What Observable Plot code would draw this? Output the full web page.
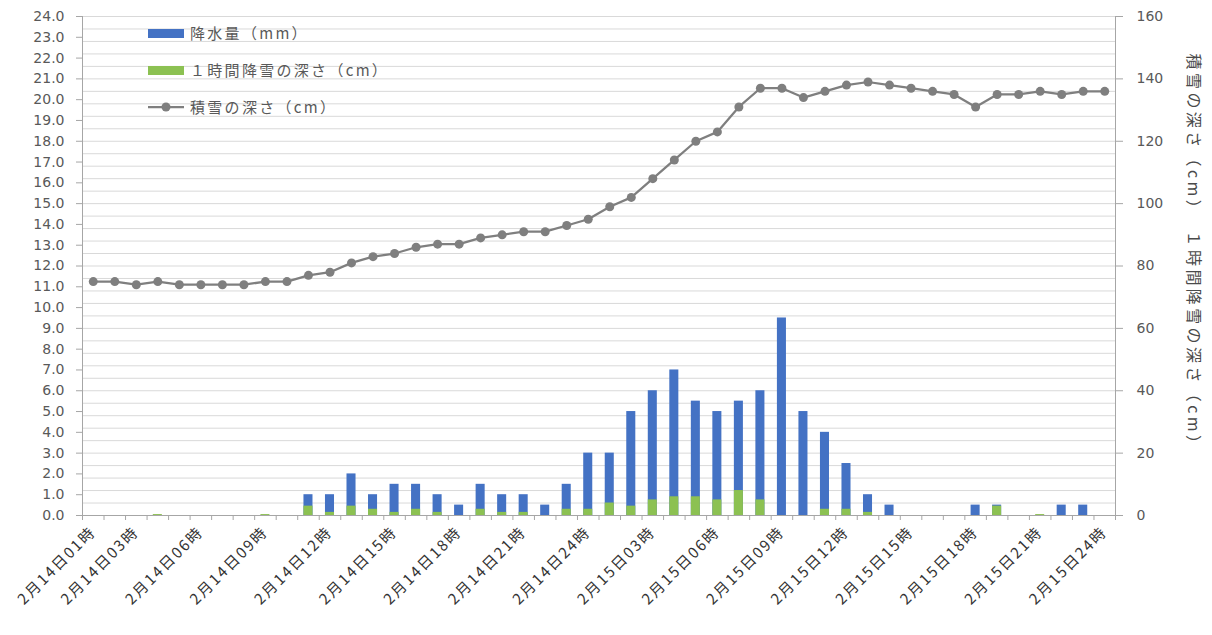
<!DOCTYPE html>
<html>
<head>
<meta charset="utf-8">
<script src="https://cdn.jsdelivr.net/npm/d3@7"></script>
<script src="https://cdn.jsdelivr.net/npm/@observablehq/plot@0.6"></script>
<style>
  html, body { margin: 0; padding: 0; background: #fff; }
  #wrap { position: relative; width: 1212px; height: 635px; overflow: hidden; }
  #chart { position: absolute; left: 0; top: 0; }
  .legend { position: absolute; font-family: "Noto Sans CJK JP", sans-serif; font-size: 15px; color: #595959; letter-spacing: 2.3px; }
  .legend .item { position: absolute; white-space: nowrap; height: 20px; }
  .legend .sw { position: absolute; left: 0; width: 36px; height: 9px; top: 6px; }
  .legend .txt { position: absolute; left: 42px; top: 0; line-height: 20px; }
  #ytitle { position: absolute; left: 1195px; top: 254px; transform: translate(-50%, -50%) rotate(90deg);
            font-family: "Noto Sans CJK JP", sans-serif; font-size: 16px; color: #4a4a4a; white-space: nowrap; letter-spacing: 3.4px; }
  svg [aria-label="x-axis tick label"] { letter-spacing: 2px; }
</style>
</head>
<body>
<div id="wrap">
  <div id="chart"></div>
  <div class="legend">
    <div class="item" style="left:148px; top:23px;"><div class="sw" style="background:#4472C4;"></div><div class="txt">降水量（mm）</div></div>
    <div class="item" style="left:148px; top:60px;"><div class="sw" style="background:#8CC152;"></div><div class="txt">１時間降雪の深さ（cm）</div></div>
    <div class="item" style="left:148px; top:97px;">
      <svg width="36" height="20" style="position:absolute;left:0;top:0"><line x1="0" y1="10" x2="36" y2="10" stroke="#7f7f7f" stroke-width="2.25"/><circle cx="18" cy="10" r="4.5" fill="#7f7f7f"/></svg>
      <div class="txt">積雪の深さ（cm）</div></div>
  </div>
  <div id="ytitle">積雪の深さ（cm）　１時間降雪の深さ（cm）</div>
</div>
<script>
// ---- data ----
const categories = [
  "2月14日01時","2月14日02時","2月14日03時","2月14日04時","2月14日05時","2月14日06時",
  "2月14日07時","2月14日08時","2月14日09時","2月14日10時","2月14日11時","2月14日12時",
  "2月14日13時","2月14日14時","2月14日15時","2月14日16時","2月14日17時","2月14日18時",
  "2月14日19時","2月14日20時","2月14日21時","2月14日22時","2月14日23時","2月14日24時",
  "2月15日01時","2月15日02時","2月15日03時","2月15日04時","2月15日05時","2月15日06時",
  "2月15日07時","2月15日08時","2月15日09時","2月15日10時","2月15日11時","2月15日12時",
  "2月15日13時","2月15日14時","2月15日15時","2月15日16時","2月15日17時","2月15日18時",
  "2月15日19時","2月15日20時","2月15日21時","2月15日22時","2月15日23時","2月15日24時"
];
const tickLabels = [
  "2月14日01時","2月14日03時","2月14日06時","2月14日09時","2月14日12時","2月14日15時",
  "2月14日18時","2月14日21時","2月14日24時","2月15日03時","2月15日06時","2月15日09時",
  "2月15日12時","2月15日15時","2月15日18時","2月15日21時","2月15日24時"
];
// 降水量 (mm) - left axis
const precip = [
  0,0,0,0,0,0,0,0,0,0,
  1.0,1.0,2.0,1.0,1.5,1.5,1.0,0.5,1.5,1.0,
  1.0,0.5,1.5,3.0,3.0,5.0,6.0,7.0,5.5,5.0,
  5.5,6.0,9.5,5.0,4.0,2.5,1.0,0.5,0,0,
  0,0.5,0.5,0,0,0.5,0.5,0
];
// 1時間降雪の深さ (cm) - right axis
const snow1h = [
  0,0,0,0.3,0,0,0,0,0.3,0,
  3,1,3,2,1,2,1,0,2,1,
  1,0,2,2,4,3,5,6,6,5,
  8,5,0,0,2,2,1,0,0,0,
  0,0,3,0,0.3,0,0,0
];
// 積雪の深さ (cm) - right axis
const depth = [
  75,75,74,75,74,74,74,74,75,75,
  77,78,81,83,84,86,87,87,89,90,
  91,91,93,95,99,102,108,114,120,123,
  131,137,137,134,136,138,139,138,137,136,
  135,131,135,135,136,135,136,136
];
const leftTicks = [0,1,2,3,4,5,6,7,8,9,10,11,12,13,14,15,16,17,18,19,20,21,22,23,24];
const rightTicks = [0,20,40,60,80,100,120,140,160];
const rightGrid = [4,8,12,16,20,24,28,32,36,40,44,48,52,56,60,64,68,72,76,80,84,88,92,96,100,104,108,112,116,120,124,128,132,136,140,144,148,152,156,160];

// ---- build ----
const k = 24 / 160; // right-axis unit -> left-axis unit
const rows = categories.map((c, i) => ({h: i + 1, label: c, precip: precip[i], snow1h: snow1h[i], depth: depth[i]}));
const labelHours = tickLabels.map(t => categories.indexOf(t) + 1);
const boundaries = d3.range(0, categories.length + 1).map(i => i + 0.5);
const half = 0.21;

const numFont = "DejaVu Sans, sans-serif";
const jpFont = "Noto Sans CJK JP, sans-serif";

const chart = Plot.plot({
  width: 1212,
  height: 635,
  marginLeft: 82,
  marginRight: 97,
  marginTop: 16,
  marginBottom: 120,
  style: {background: "white", color: "#595959", fontFamily: numFont},
  x: {domain: [0.5, categories.length + 0.5], axis: null},
  y: {domain: [0, 24], axis: null},
  marks: [
    Plot.ruleY(rightGrid, {y: d => d * k, stroke: "#d9d9d9", strokeWidth: 1}),
    Plot.rect(rows, {x1: d => d.h - half, x2: d => d.h + half, y1: 0, y2: "precip", fill: "#4472C4"}),
    Plot.rect(rows, {x1: d => d.h - half, x2: d => d.h + half, y1: 0, y2: d => d.snow1h * k, fill: "#8CC152"}),
    Plot.line(rows, {x: "h", y: d => d.depth * k, stroke: "#7f7f7f", strokeWidth: 2.25}),
    Plot.dot(rows, {x: "h", y: d => d.depth * k, r: 4.5, fill: "#7f7f7f"}),
    Plot.frame({anchor: "left", stroke: "#a6a6a6"}),
    Plot.frame({anchor: "right", stroke: "#a6a6a6"}),
    Plot.frame({anchor: "bottom", stroke: "#a6a6a6"}),
    Plot.axisY({anchor: "left", ticks: leftTicks, tickSize: 6, tickPadding: 12, tickFormat: d => d.toFixed(1),
      label: null, fontSize: 14, fill: "#595959", stroke: "#a6a6a6"}),
    Plot.axisY({anchor: "right", ticks: rightTicks.map(v => v * k), tickSize: 7, tickPadding: 14,
      tickFormat: d => String(Math.round(d / k)), label: null, fontSize: 14, fill: "#595959", stroke: "#a6a6a6"}),
    Plot.axisX({ticks: boundaries, tickSize: 5, tickFormat: () => "", label: null, stroke: "#a6a6a6"}),
    Plot.axisX({ticks: labelHours, tickFormat: h => categories[h - 1], tickRotate: -45, tickSize: 0, tickPadding: 14,
      label: null, fontSize: 15, fontFamily: jpFont, fill: "#333333"})
  ]
});
document.getElementById("chart").appendChild(chart);
</script>
</body>
</html>
